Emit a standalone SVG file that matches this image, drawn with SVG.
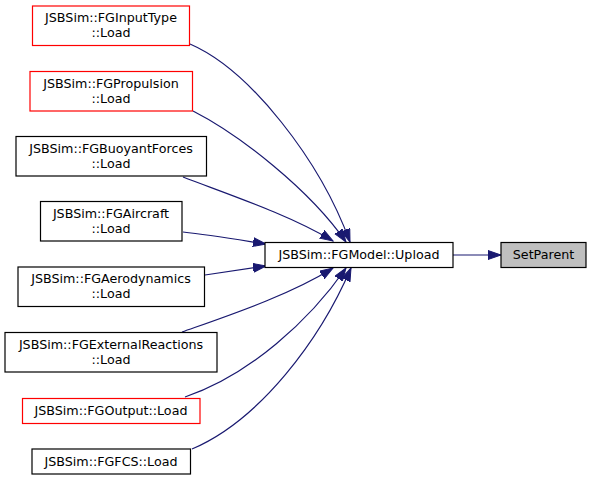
<svg xmlns="http://www.w3.org/2000/svg" width="591" height="481" viewBox="0 0 591 481">
<style>
.n rect{fill:#fff;stroke:#000;stroke-width:1.2}
.n.r rect{stroke:#ff0000}
.n.g rect{fill:#bfbfbf}
text{font-family:"DejaVu Sans",sans-serif;font-size:12.7px;text-anchor:middle;fill:#000}
.e path{fill:none;stroke:#191970;stroke-width:1.2;marker-end:url(#a)}
</style>
<defs>
<marker id="a" markerUnits="userSpaceOnUse" markerWidth="14" markerHeight="11" refX="13" refY="5" orient="auto">
<path d="M0,0.5 L13,5 L0,9.5 z" fill="#191970" stroke="#191970" stroke-width="1"/>
</marker>
</defs>
<g class="e">
<path d="M190,44 C250,70 320,160 350,242"/>
<path d="M193,111 C240,135 310,190 346,242"/>
<path d="M183,177 C230,195 290,215 333,241"/>
<path d="M183,232 C210,235 240,240 266,244"/>
<path d="M205,275 C225,272 245,269 266,266"/>
<path d="M182,332 C230,315 290,295 333,268"/>
<path d="M185,397 C250,375 310,320 346,268"/>
<path d="M192,449 C260,420 320,340 351,268"/>
<path d="M453,255 L501,255"/>
</g>
<g id="n1" class="n r"><rect x="32.5" y="6" width="157" height="39.5"/><text x="111" y="22">JSBSim::FGInputType</text><text x="111" y="37">::Load</text></g>
<g id="n2" class="n r"><rect x="30" y="71.5" width="162.5" height="39.5"/><text x="111" y="87.5">JSBSim::FGPropulsion</text><text x="111" y="102.5">::Load</text></g>
<g id="n3" class="n"><rect x="16" y="136.5" width="190.5" height="39.5"/><text x="111" y="152.5">JSBSim::FGBuoyantForces</text><text x="111" y="167.5">::Load</text></g>
<g id="n4" class="n"><rect x="40.5" y="201.5" width="141.5" height="39.5"/><text x="111" y="217.5">JSBSim::FGAircraft</text><text x="111" y="232.5">::Load</text></g>
<g id="n5" class="n"><rect x="18" y="267" width="186.5" height="39.5"/><text x="111" y="283">JSBSim::FGAerodynamics</text><text x="111" y="298">::Load</text></g>
<g id="n6" class="n"><rect x="5" y="332.5" width="212" height="39.5"/><text x="111" y="348.5">JSBSim::FGExternalReactions</text><text x="111" y="363.5">::Load</text></g>
<g id="n7" class="n r"><rect x="22.5" y="398.5" width="177.5" height="25"/><text x="111" y="415">JSBSim::FGOutput::Load</text></g>
<g id="n8" class="n"><rect x="32" y="449" width="158.5" height="25"/><text x="111" y="465.5">JSBSim::FGFCS::Load</text></g>
<g id="n9" class="n"><rect x="265" y="242.5" width="188" height="25"/><text x="359" y="259">JSBSim::FGModel::Upload</text></g>
<g id="n10" class="n g"><rect x="501" y="242.5" width="85" height="25"/><text x="543.5" y="259">SetParent</text></g>
</svg>
